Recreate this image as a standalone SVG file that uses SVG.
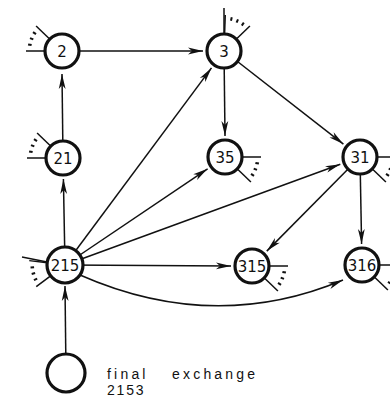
<svg xmlns="http://www.w3.org/2000/svg" xmlns:xlink="http://www.w3.org/1999/xlink" width="390" height="400" viewBox="0 0 390 400">
  <style>
    .node circle { fill: #fff; stroke: #111; stroke-width: 3.2; }
    .node text { font-family: "DejaVu Sans", "Liberation Sans", sans-serif; font-size: 15px; fill: #111; text-anchor: middle; }
    .edge { fill: none; stroke: #111; stroke-width: 1.5; marker-end: url(#dart); }
    .stub { fill: none; stroke: #111; stroke-width: 1.5; }
    .stub .dot { stroke-width: 2; }
    .caption { font-family: "Liberation Sans", "DejaVu Sans", sans-serif; font-size: 14px; fill: #111; letter-spacing: 3.2px; }
    .caption.num { letter-spacing: 1.8px; }
  </style>
  <defs>
    <marker id="dart" markerUnits="userSpaceOnUse" markerWidth="20" markerHeight="10" viewBox="-16 -5 17 10" refX="0" refY="0" orient="auto">
      <path d="M0,0 L-15,-3.4 L-11,0 L-15,3.4 Z" fill="#111"/>
    </marker>
    <!-- outside links of a node: two radial strokes with three dashes between -->
    <g id="links" class="stub">
      <line x1="18" y1="0" x2="36" y2="0"/>
      <line x1="12.9" y1="12.5" x2="25.9" y2="25"/>
      <line class="dot" x1="30.4" y1="5.9" x2="33.9" y2="6.6"/>
      <line class="dot" x1="28.7" y1="11.6" x2="32" y2="12.9"/>
      <line class="dot" x1="26.0" y1="16.9" x2="29" y2="18.8"/>
    </g>
  </defs>

  <!-- connectors -->
  <g id="edges">
    <line class="edge" x1="62" y1="51" x2="203" y2="51"/>
    <line class="edge" x1="63" y1="158" x2="62" y2="74"/>
    <line class="edge" x1="65" y1="265" x2="63.4" y2="179"/>
    <line class="edge" x1="66" y1="373" x2="65" y2="286"/>
    <line class="edge" x1="65" y1="265" x2="211.5" y2="67.9"/>
    <line class="edge" x1="224" y1="51" x2="225" y2="136"/>
    <line class="edge" x1="224" y1="51" x2="343.4" y2="144.1"/>
    <line class="edge" x1="65" y1="265" x2="207.6" y2="168.8"/>
    <line class="edge" x1="65" y1="265" x2="340.3" y2="164.2"/>
    <line class="edge" x1="360" y1="157" x2="266.8" y2="251.1"/>
    <line class="edge" x1="65" y1="265" x2="231" y2="266"/>
    <line class="edge" x1="360" y1="157" x2="361.6" y2="244"/>
    <path class="edge" d="M80,275 Q214,334 343,280"/>
  </g>

  <!-- nodes -->
  <g id="n2" class="node">
    <use xlink:href="#links" transform="translate(62,51) rotate(180)"/>
    <circle cx="62" cy="51" r="17"/>
    <text x="62" y="56.5">2</text>
  </g>
  <g id="n3" class="node">
    <line class="stub" x1="224" y1="33" x2="224" y2="8"/>
    <use xlink:href="#links" transform="translate(224,51) rotate(272)"/>
    <circle cx="224" cy="51" r="17"/>
    <text x="224" y="56.5">3</text>
  </g>
  <g id="n21" class="node">
    <use xlink:href="#links" transform="translate(63,158) rotate(180)"/>
    <circle cx="63" cy="158" r="17"/>
    <text x="63" y="163.5">21</text>
  </g>
  <g id="n35" class="node">
    <use xlink:href="#links" transform="translate(225,157)"/>
    <circle cx="225" cy="157" r="17"/>
    <text x="225" y="162.5">35</text>
  </g>
  <g id="n31" class="node">
    <use xlink:href="#links" transform="translate(360,157)"/>
    <circle cx="360" cy="157" r="17"/>
    <text x="360" y="162.5">31</text>
  </g>
  <g id="n215" class="node">
    <use xlink:href="#links" transform="translate(65,265) rotate(143)"/>
    <line class="stub" x1="47" y1="262" x2="22" y2="257"/>
    <circle cx="65" cy="265" r="18"/>
    <text x="65" y="270.5">215</text>
  </g>
  <g id="n315" class="node">
    <use xlink:href="#links" transform="translate(252,266)"/>
    <circle cx="252" cy="266" r="17"/>
    <text x="252" y="271.5">315</text>
  </g>
  <g id="n316" class="node">
    <use xlink:href="#links" transform="translate(362,265)"/>
    <circle cx="362" cy="265" r="17"/>
    <text x="362" y="270.5">316</text>
  </g>
  <g id="n2153" class="node">
    <circle cx="66" cy="373" r="19"/>
  </g>

  <text class="caption" x="107" y="379">final</text>
  <text class="caption" x="172" y="379">exchange</text>
  <text class="caption num" x="107" y="395">2153</text>
</svg>
